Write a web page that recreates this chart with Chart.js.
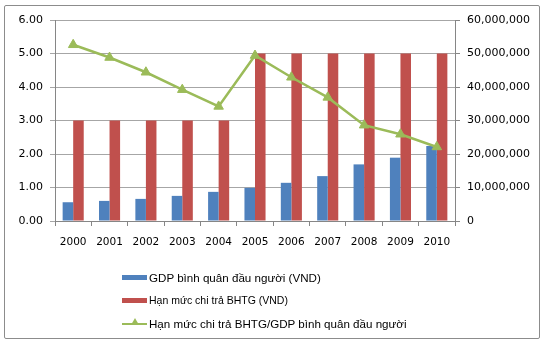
<!DOCTYPE html>
<html>
<head>
<meta charset="utf-8">
<script src="https://cdn.jsdelivr.net/npm/chart.js@4.4.0/dist/chart.umd.min.js"></script>
<style>
    body { margin: 0; background: #fff; font-family: "DejaVu Sans", sans-serif; }
    #wrap { position: relative; width: 549px; height: 344px; }
    #chart { position: absolute; left: 0; top: 0; }
    .frame { position: absolute; left: 4px; top: 5px; width: 534px; height: 332px; border: 1px solid #8c8c8c; border-radius: 2px; pointer-events: none; }
    .legend { position: absolute; left: 122px; top: 269px; color: #000; font-family: "Liberation Sans", Arial, sans-serif; }
    .legend .row { position: absolute; left: 0; height: 16px; white-space: nowrap; display: flex; align-items: center; }
    .legend .sym { width: 25px; height: 5px; margin-right: 2px; position: relative; }
    .legend .line { height: 2px; background: #9bbb59; }
    .legend .tri { position: absolute; left: 9px; top: -3px; width: 0; height: 0; border-left: 4px solid transparent; border-right: 4px solid transparent; border-bottom: 7px solid #9bbb59; }
</style>
</head>
<body>
<div id="wrap">
    <canvas id="chart" width="549" height="344"></canvas>
    <div class="frame"></div>
    <div class="legend" id="legend"></div>
</div>
<script>
// Chart data
const years = ['2000', '2001', '2002', '2003', '2004', '2005', '2006', '2007', '2008', '2009', '2010'];
const gdpPerCapita = [5600000, 6000000, 6600000, 7500000, 8700000, 9900000, 11400000, 13400000, 16900000, 18900000, 22400000];
const payoutLimit = [30000000, 30000000, 30000000, 30000000, 30000000, 50000000, 50000000, 50000000, 50000000, 50000000, 50000000];
const limitToGdp = [5.26, 4.88, 4.44, 3.92, 3.42, 4.94, 4.29, 3.69, 2.86, 2.59, 2.21];

const labelGdp = 'GDP bình quân đầu người (VND)';
const labelLimit = 'Hạn mức chi trả BHTG (VND)';
const labelRatio = 'Hạn mức chi trả BHTG/GDP bình quân đầu người';

const blue = '#4f81bd';
const red = '#c0504d';
const green = '#9bbb59';

const ctx = document.getElementById('chart').getContext('2d');
const chart = new Chart(ctx, {
    type: 'bar',
    data: {
        labels: years,
        datasets: [{
            type: 'line',
            label: labelRatio,
            data: limitToGdp,
            yAxisID: 'y',
            borderColor: green,
            backgroundColor: green,
            borderWidth: 2.5,
            pointStyle: 'triangle',
            pointRadius: 5.5,
            pointBorderWidth: 1,
            tension: 0,
            order: 0
        }, {
            label: labelGdp,
            data: gdpPerCapita,
            yAxisID: 'y1',
            backgroundColor: blue,
            barPercentage: 1,
            categoryPercentage: 0.58,
            order: 1
        }, {
            label: labelLimit,
            data: payoutLimit,
            yAxisID: 'y1',
            backgroundColor: red,
            barPercentage: 1,
            categoryPercentage: 0.58,
            order: 2
        }]
    },
    options: {
        responsive: false,
        animation: false,
        layout: { padding: { top: 20, bottom: 93, left: 0, right: 0 } },
        plugins: {
            legend: { display: false },
            tooltip: { enabled: false }
        },
        scales: {
            x: {
                grid: { drawOnChartArea: false, drawTicks: true, tickLength: 5, color: '#868686', offset: true },
                border: { color: '#868686' },
                ticks: { color: '#000', padding: 10, font: { family: 'DejaVu Sans', size: 10.5 }, maxRotation: 0 },
                afterFit: function(scale) { scale.height = 30; }
            },
            y: {
                position: 'left',
                min: 0,
                max: 6,
                ticks: {
                    stepSize: 1,
                    color: '#000',
                    padding: 7,
                    font: { family: 'DejaVu Sans', size: 11 },
                    callback: function(v) { return v.toFixed(2); }
                },
                grid: { color: '#a6a6a6', tickLength: 5 },
                border: { color: '#868686' },
                afterFit: function(scale) { scale.width = 55; }
            },
            y1: {
                position: 'right',
                min: 0,
                max: 60000000,
                ticks: {
                    stepSize: 10000000,
                    color: '#000',
                    padding: 7,
                    font: { family: 'DejaVu Sans', size: 11 },
                    callback: function(v) { return v.toLocaleString('en-US'); }
                },
                grid: { drawOnChartArea: false, tickLength: 5, color: '#868686' },
                border: { color: '#868686' },
                afterFit: function(scale) { scale.width = 94; }
            }
        }
    }
});

// Legend laid out as three rows like the original
const legendRows = [
    { text: labelGdp, kind: 'bar', color: blue, top: 0, size: 11.6 },
    { text: labelLimit, kind: 'bar', color: red, top: 23, size: 10.5 },
    { text: labelRatio, kind: 'line', color: green, top: 46, size: 11.6 }
];
const legendEl = document.getElementById('legend');
legendRows.forEach(item => {
    const row = document.createElement('div');
    row.className = 'row';
    row.style.top = item.top + 'px';
    row.style.fontSize = item.size + 'px';
    const sym = document.createElement('div');
    sym.className = 'sym';
    if (item.kind === 'bar') {
        sym.style.background = item.color;
    } else {
        sym.innerHTML = '<div class="line" style="margin-top:2px"></div><div class="tri"></div>';
    }
    const txt = document.createElement('span');
    txt.textContent = item.text;
    row.appendChild(sym);
    row.appendChild(txt);
    legendEl.appendChild(row);
});
</script>
</body>
</html>
